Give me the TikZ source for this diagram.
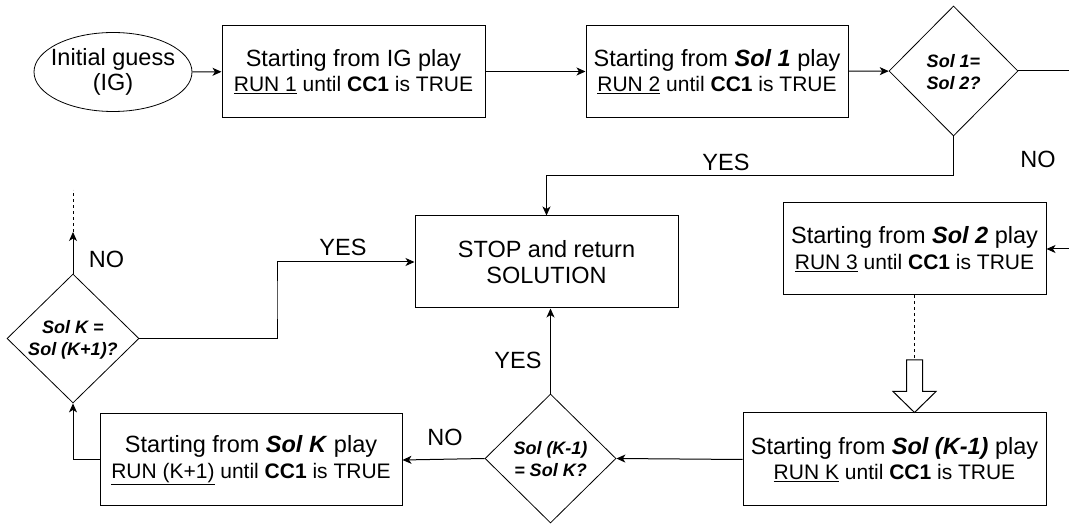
\documentclass[tikz,border=0pt]{standalone}
\usepackage{fontspec}
\setmainfont{Liberation Sans}
\usetikzlibrary{shapes.geometric,arrows.meta,calc}
\newcommand\secondline{\fontsize{21}{25.5}\selectfont}
\begin{document}
\begin{tikzpicture}[x=1pt,y=-1pt,
  every node/.style={inner sep=0pt},
  txt/.style={font=\fontsize{23.5}{25.5}\selectfont, align=center},
  boxn/.style={txt, draw, line width=1pt, minimum height=92pt},
  dia/.style={diamond, draw, line width=0.8pt, inner sep=0pt},
  ell/.style={ellipse, draw, line width=0.8pt, inner sep=0pt},
  diatxt/.style={font=\fontsize{18}{22}\selectfont\bfseries\itshape, align=center},
  lbl/.style={font=\fontsize{23.5}{25.5}\selectfont},
  arr/.style={line width=1pt, -{Stealth[length=9pt,width=8pt,inset=2.5pt]}},
  ln/.style={line width=1pt}
]
\useasboundingbox (0,0) rectangle (1069,526);
\clip (0,0) rectangle (1069,526);

% nodes
\node[ell, minimum width=158pt, minimum height=79pt] (ig) at (113,72) {};
\node[txt] (igt) at (113,72) {Initial guess\\(IG)};
\node[boxn, minimum width=263pt] (b1) at (353.5,71.5) {Starting from IG play\\{\secondline\underline{RUN 1} until \textbf{CC1} is TRUE}};
\node[boxn, minimum width=262pt] (b2) at (717,71.5) {Starting from \textbf{\textit{Sol 1}} play\\{\secondline\underline{RUN 2} until \textbf{CC1} is TRUE}};
\node[dia, minimum width=129pt, minimum height=130pt] (d1) at (953.5,71) {};
\node[diatxt] (d1t) at (953.5,72) {Sol 1=\\Sol 2?};

\node[boxn, minimum width=263pt] (stop) at (546.5,262) {STOP and return\\SOLUTION};
\node[boxn, minimum width=263pt] (b3) at (914.5,249) {Starting from \textbf{\textit{Sol 2}} play\\{\secondline\underline{RUN 3} until \textbf{CC1} is TRUE}};
\node[boxn, minimum width=303pt, minimum height=93pt] (b4) at (894.5,459.5) {Starting from \textbf{\textit{Sol (K-1)}} play\\{\secondline\underline{RUN K} until \textbf{CC1} is TRUE}};
\node[dia, minimum width=131pt, minimum height=129pt] (d3) at (550.5,458.5) {};
\node[diatxt] (d3t) at (550.5,459.5) {Sol (K-1)\\= Sol K?};
\node[boxn, minimum width=302pt] (b5) at (251,460) {Starting from \textbf{\textit{Sol K}} play\\{\secondline\underline{RUN (K+1)} until \textbf{CC1} is TRUE}};
\node[dia, minimum width=132pt, minimum height=129pt] (d2) at (73,338.5) {};
\node[diatxt] (d2t) at (73,339.5) {Sol K =\\Sol (K+1)?};

% labels
\node[lbl] (noA) at (1038,159) {NO};
\node[lbl] (yesA) at (726,162) {YES};
\node[lbl] (yesB) at (343,247) {YES};
\node[lbl] (noB) at (106.5,259) {NO};
\node[lbl] (yesC) at (518,360) {YES};
\node[lbl] (noC) at (445,437) {NO};

% helper coordinates
\coordinate (r1) at (1085,71);
\coordinate (r2) at (1085,249);
\coordinate (j1) at (953.5,176);
\coordinate (j2) at (277,300);
\coordinate (up1) at (73,232);
\coordinate (up2) at (73,190);
\coordinate (hs) at (914.5,360);
\coordinate (ht) at (b3.south |- b4.north);

% connectors
\draw[arr] (ig) -- (b1);
\draw[arr] (b1) -- (b2);
\draw[arr] (b2) -- (d1);
\draw[arr] (d1.east) -- (r1) -- (r2) -- (b3.east);
\draw[arr] (d1.south) -- (j1) -| (stop.north);
\draw[ln, dash pattern=on 3pt off 3pt] (b3.south) -- (hs);
\draw[line width=1pt, fill=white, line join=miter]
  ($(hs)+(-8,0)$) -- ($(hs)+(8,0)$) -- ($(ht)+(8,-21)$) -- ($(ht)+(21.5,-21)$)
  -- (ht) -- ($(ht)+(-21.5,-21)$) -- ($(ht)+(-8,-21)$) -- cycle;
\draw[arr] (b4.west) -- (d3.east);
\draw[arr] (d3.north) -- (d3.north |- stop.south);
\draw[arr] (d3.west) -- (b5.east);
\draw[arr] (b5.west) -| (d2.south);
\draw[arr] (d2.east) -| (j2) |- (stop.west);
\draw[arr] (d2.north) -- (up1);
\draw[ln, dash pattern=on 3pt off 3pt] (up1) -- (up2);
\end{tikzpicture}
\end{document}
